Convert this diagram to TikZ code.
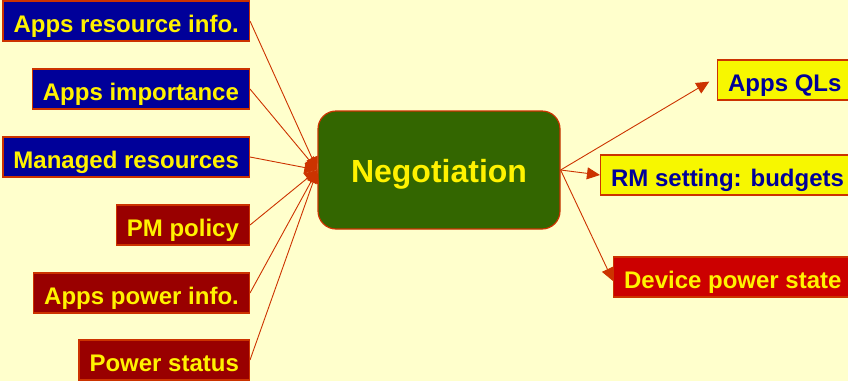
\documentclass[tikz,border=0pt]{standalone}
\usepackage{fontspec}
\setmainfont{Liberation Sans}
\usetikzlibrary{arrows.meta}
\definecolor{bgyellow}{HTML}{FFFFCC}
\definecolor{navy}{HTML}{000099}
\definecolor{darkred}{HTML}{990000}
\definecolor{brightred}{HTML}{CC0000}
\definecolor{rim}{HTML}{CC3300}
\definecolor{leaf}{HTML}{336600}
\definecolor{lemon}{HTML}{F7F700}
\begin{document}
\begin{tikzpicture}[x=1pt,y=-1pt,
    box/.style={draw=rim,line width=1.2pt,minimum height=40pt,inner xsep=10.5pt,inner ysep=0pt,
                text height=22pt,text depth=0pt,font=\fontsize{24}{28}\selectfont\bfseries},
    bluebox/.style={box,fill=navy,text=yellow,anchor=east},
    redbox/.style={box,fill=darkred,text=yellow,anchor=east},
    outbox/.style={box,fill=lemon,text=navy,anchor=west},
    link/.style={rim,line width=0.9pt,-{Triangle[length=13pt,width=12pt]}}]
        \useasboundingbox[fill=bgyellow] (0,0) rectangle (848,381);
        % inputs
        \draw (250,21)  node[bluebox] (ari) {Apps resource info.};
        \draw (250,89)  node[bluebox] (aim) {Apps importance};
        \draw (250,157) node[bluebox] (mre) {Managed resources};
        \draw (250,225) node[redbox]  (pmp) {PM policy};
        \draw (250,293) node[redbox]  (api) {Apps power info.};
        \draw (250,360) node[redbox]  (pst) {Power status};
        % centre
        \draw (439,170) node[draw=rim,line width=1.2pt,fill=leaf,text=yellow,rounded corners=18pt,
              minimum width=242pt,minimum height=118pt,text height=24pt,text depth=0pt,
              font=\fontsize{32}{36}\selectfont\bfseries] (neg) {Negotiation};
        % outputs
        \draw (717,80)  node[outbox] (aql) {Apps QLs};
        \draw (600,175) node[outbox] (rms) {RM setting: budgets};
        \draw (613,277) node[box,fill=brightred,text=yellow,anchor=west] (dps) {Device power state};
        \draw[link] (ari.east) -- (neg.west);
        \draw[link] (aim.east) -- (neg.west);
        \draw[link] (mre.east) -- (neg.west);
        \draw[link] (pmp.east) -- (neg.west);
        \draw[link] (api.east) -- (neg.west);
        \draw[link] (pst.east) -- (neg.west);
        \draw[link,shorten >=9pt] (neg.east) -- ([yshift=3pt]aql.west);
        \draw[link] (neg.east) -- (rms.west);
        \draw[link] (neg.east) -- ([yshift=-4pt]dps.west);
    \end{tikzpicture}
\end{document}
